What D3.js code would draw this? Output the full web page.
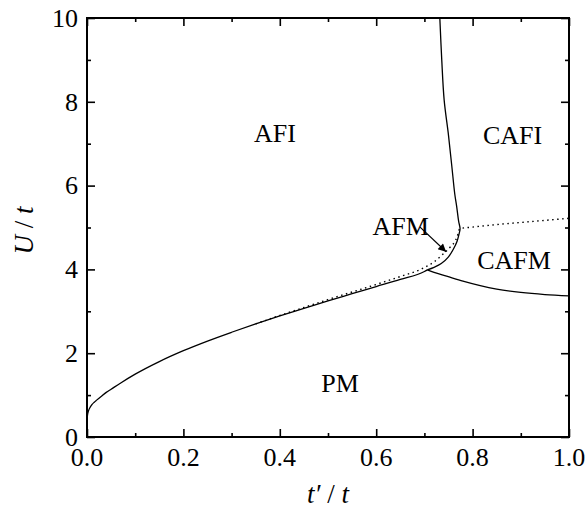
<!DOCTYPE html>
<html lang="en">
<head>
    <meta charset="UTF-8">
    <title>Phase diagram</title>
    <script src="https://d3js.org/d3.v7.min.js" type="text/JavaScript"></script>
    <style>
        body { margin: 0; background: #fff; }
        text { font-family: "Liberation Serif", "Times New Roman", serif; fill: #000; }
    </style>
</head>
<body>
<svg height="514" id="chart" width="587"></svg>
<script>
    // PM boundary (solid), origin up to the junction point
    var pmT = [0, 0.0002, 0.001, 0.003, 0.006, 0.01, 0.015, 0.02, 0.03, 0.04, 0.05, 0.07, 0.1, 0.15, 0.2, 0.25, 0.3, 0.35, 0.4, 0.45, 0.5, 0.55, 0.6, 0.65, 0.7, 0.706];
    var pmU = [0, 0.3, 0.52, 0.62, 0.7, 0.77, 0.83, 0.88, 0.975, 1.065, 1.14, 1.29, 1.5, 1.8, 2.06, 2.29, 2.5, 2.7, 2.89, 3.07, 3.25, 3.42, 3.59, 3.76, 3.95, 3.99];

    // AFM / CAFM boundary then the AFI / CAFI line up to the top (solid)
    var afmT = [0.706, 0.72, 0.735, 0.75, 0.76, 0.768, 0.772, 0.774, 0.771, 0.767, 0.763, 0.757, 0.75, 0.741, 0.736, 0.732];
    var afmU = [3.99, 4.05, 4.14, 4.3, 4.48, 4.68, 4.85, 4.97, 5.15, 5.5, 5.8, 6.45, 7.2, 8.04, 9.0, 10];

    // CAFM / PM boundary (solid)
    var cafmT = [0.706, 0.72, 0.746, 0.78, 0.85, 0.9, 0.95, 1.0];
    var cafmU = [3.99, 3.93, 3.84, 3.72, 3.53, 3.45, 3.4, 3.37];

    // AFI / AFM and CAFI / CAFM boundary (dotted)
    var dotT = [0.35, 0.4, 0.45, 0.5, 0.55, 0.6, 0.65, 0.69, 0.72, 0.74, 0.755, 0.765, 0.77, 0.773, 0.8, 0.85, 0.9, 0.95, 1.0];
    var dotU = [2.7, 2.9, 3.09, 3.28, 3.46, 3.64, 3.83, 3.99, 4.18, 4.38, 4.55, 4.7, 4.85, 4.97, 5.01, 5.07, 5.12, 5.17, 5.22];

    var labelText = ["AFI", "CAFI", "AFM", "CAFM", "PM"];
    var labelT = [0.39, 0.883, 0.651, 0.886, 0.525];
    var labelU = [7.04, 6.99, 4.82, 4.01, 1.07];

    // arrow from the AFM label into the thin AFM sliver
    var arrowT = [0.691, 0.745];
    var arrowU = [5.01, 4.42];

    var xTicks = [0, 0.2, 0.4, 0.6, 0.8, 1.0];
    var xMinor = [0.1, 0.3, 0.5, 0.7, 0.9];
    var yTicks = [0, 2, 4, 6, 8, 10];
    var yMinor = [1, 3, 5, 7, 9];

    var pLeft = 87, pRight = 569, pTop = 18, pBottom = 437;
    var svg = d3.select('#chart');

    var x = d3.scaleLinear().domain([0, 1]).range([pLeft, pRight]);
    var y = d3.scaleLinear().domain([0, 10]).range([pBottom, pTop]);

    function zip(ts, us) {
        return ts.map((t, i) => [t, us[i]]);
    }

    var lineMono = d3.line().x(d => x(d[0])).y(d => y(d[1])).curve(d3.curveMonotoneX);
    var lineFree = d3.line().x(d => x(d[0])).y(d => y(d[1])).curve(d3.curveCatmullRom);

    var plot = svg.append('g');
    plot.append('path').attr('d', lineMono(zip(pmT, pmU)))
        .attr('fill', 'none').attr('stroke', '#000').attr('stroke-width', 1.3);
    plot.append('path').attr('d', lineFree(zip(afmT, afmU)))
        .attr('fill', 'none').attr('stroke', '#000').attr('stroke-width', 1.3);
    plot.append('path').attr('d', lineMono(zip(cafmT, cafmU)))
        .attr('fill', 'none').attr('stroke', '#000').attr('stroke-width', 1.3);
    plot.append('path').attr('d', lineMono(zip(dotT, dotU)))
        .attr('fill', 'none').attr('stroke', '#000').attr('stroke-width', 1.4)
        .attr('stroke-dasharray', '1.5,3.5');

    // arrow
    svg.append('defs').append('marker')
        .attr('id', 'head').attr('viewBox', '0 0 10 10')
        .attr('refX', 10).attr('refY', 5)
        .attr('markerWidth', 11).attr('markerHeight', 8)
        .attr('markerUnits', 'userSpaceOnUse')
        .attr('orient', 'auto')
        .append('path').attr('d', 'M0,0 L10,5 L0,10 z').attr('fill', '#000');
    svg.append('line')
        .attr('x1', x(arrowT[0])).attr('y1', y(arrowU[0]))
        .attr('x2', x(arrowT[1])).attr('y2', y(arrowU[1]))
        .attr('stroke', '#000').attr('stroke-width', 1.2)
        .attr('marker-end', 'url(#head)');

    // region labels
    svg.selectAll('text.region')
        .data(labelText)
        .enter().append('text')
        .attr('class', 'region')
        .attr('x', (d, i) => x(labelT[i]))
        .attr('y', (d, i) => y(labelU[i]))
        .attr('text-anchor', 'middle')
        .style('font-size', '26px')
        .text(d => d);

    // ticks, all pointing inward
    function ticks(axis, vals, len, transform) {
        var g = svg.append('g').attr('transform', transform)
            .call(axis.tickValues(vals).tickSize(len).tickFormat(''));
        g.select('.domain').remove();
        g.selectAll('line').attr('stroke', '#000').attr('stroke-width', 1.6);
        return g;
    }
    ticks(d3.axisBottom(x), xTicks, -8, 'translate(0,' + pBottom + ')');
    ticks(d3.axisBottom(x), xMinor, -4, 'translate(0,' + pBottom + ')');
    ticks(d3.axisTop(x), xTicks, -8, 'translate(0,' + pTop + ')');
    ticks(d3.axisTop(x), xMinor, -4, 'translate(0,' + pTop + ')');
    ticks(d3.axisLeft(y), yTicks, -8, 'translate(' + pLeft + ',0)');
    ticks(d3.axisLeft(y), yMinor, -4, 'translate(' + pLeft + ',0)');
    ticks(d3.axisRight(y), yTicks, -8, 'translate(' + pRight + ',0)');
    ticks(d3.axisRight(y), yMinor, -4, 'translate(' + pRight + ',0)');

    // frame
    svg.append('rect')
        .attr('x', pLeft).attr('y', pTop)
        .attr('width', pRight - pLeft).attr('height', pBottom - pTop)
        .attr('fill', 'none').attr('stroke', '#000').attr('stroke-width', 2);

    // tick labels
    svg.selectAll('text.xt')
        .data(xTicks)
        .enter().append('text')
        .attr('class', 'xt')
        .attr('x', d => x(d))
        .attr('y', 466)
        .attr('text-anchor', 'middle')
        .style('font-size', '26px')
        .text(d => d3.format('.1f')(d));

    svg.selectAll('text.yt')
        .data(yTicks)
        .enter().append('text')
        .attr('class', 'yt')
        .attr('x', 78)
        .attr('y', d => y(d))
        .attr('dy', '0.34em')
        .attr('text-anchor', 'end')
        .style('font-size', '26px')
        .text(d => d);

    // axis titles
    var xt = svg.append('text')
        .attr('x', (pLeft + pRight) / 2)
        .attr('y', 503)
        .attr('text-anchor', 'middle')
        .style('font-size', '27px');
    xt.append('tspan').style('font-style', 'italic').text('t′');
    xt.append('tspan').text(' / ');
    xt.append('tspan').style('font-style', 'italic').text('t');

    var yt = svg.append('text')
        .attr('transform', 'translate(33,' + ((pTop + pBottom) / 2 + 3) + ') rotate(-90)')
        .attr('text-anchor', 'middle')
        .style('font-size', '27px');
    yt.append('tspan').style('font-style', 'italic').text('U');
    yt.append('tspan').text(' / ');
    yt.append('tspan').style('font-style', 'italic').text('t');
</script>
</body>
</html>
